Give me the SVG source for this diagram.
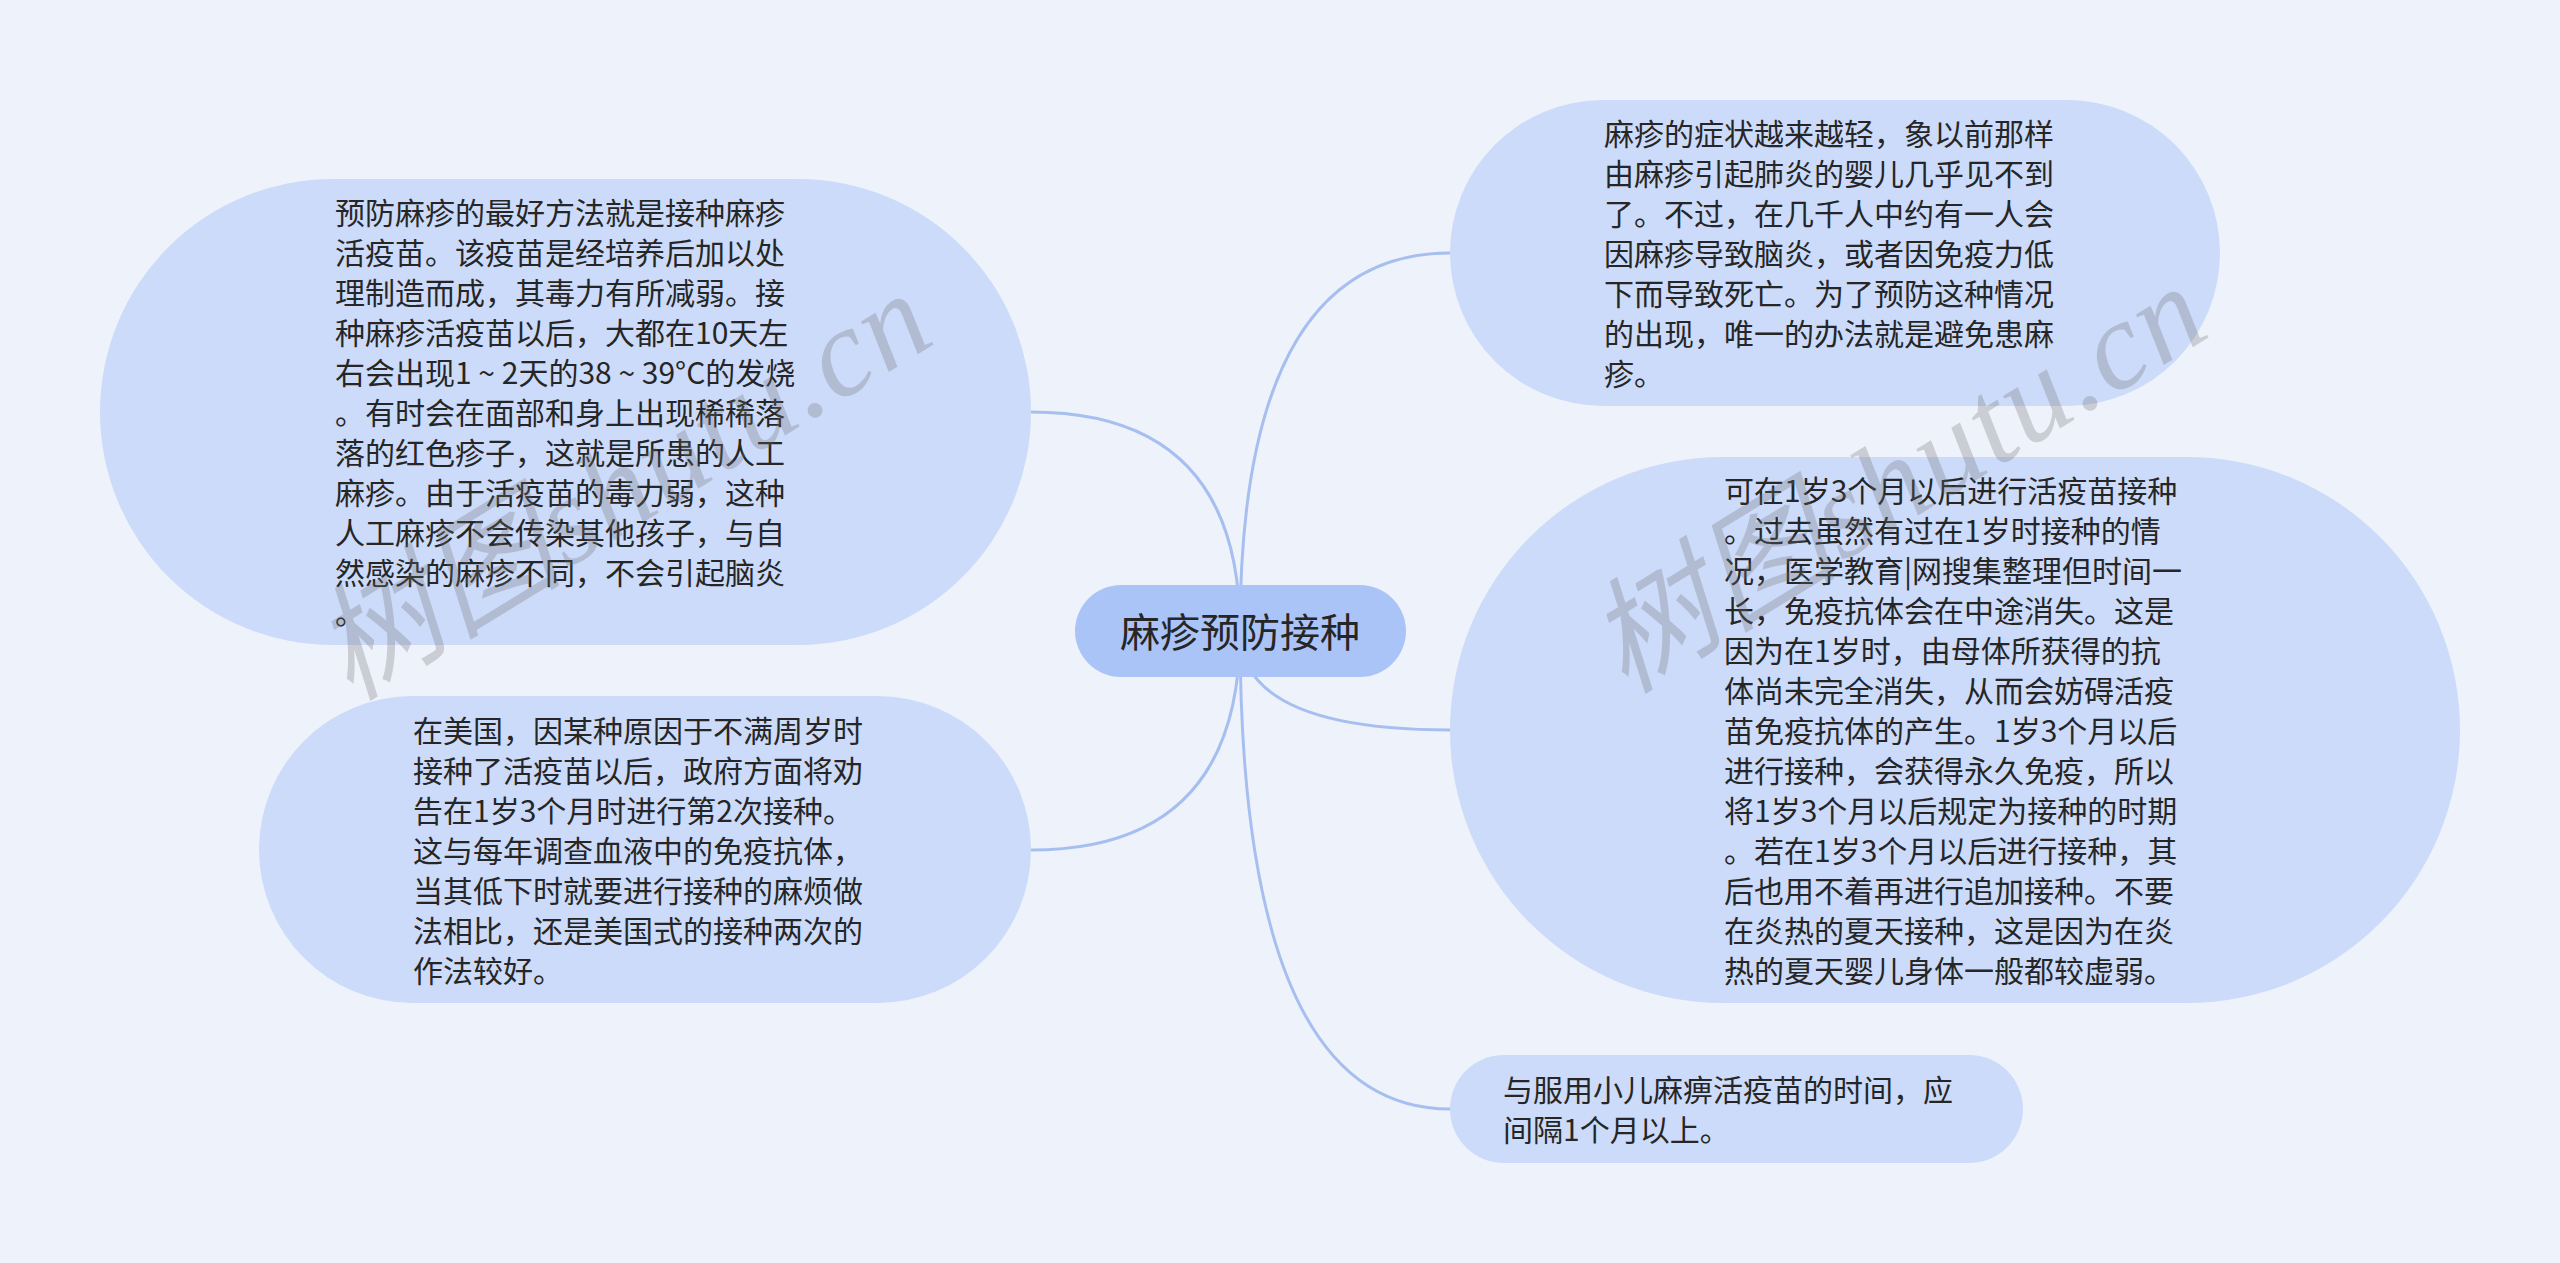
<svg xmlns="http://www.w3.org/2000/svg" width="2560" height="1263" viewBox="0 0 2560 1263">
<style>
.bg{fill:#eef3fb}
.node{fill:#ccdbfa}
.root{fill:#abc4f8}
.link{fill:none;stroke:#a7bff0;stroke-width:3}
.t{font-family:"Noto Sans CJK SC","Noto Sans",sans-serif;font-size:30px;fill:#262626}
.rt{font-family:"Noto Sans CJK SC","Noto Sans",sans-serif;font-size:40px;fill:#262626}
.wm{font-family:"Liberation Serif","Noto Sans CJK SC",serif;font-style:italic;font-size:125px;fill:#6f6f6f;opacity:0.28}
</style>
<rect class="bg" x="0" y="0" width="2560" height="1263"/>
<g id="connectors">
<path class="link" d="M1240 631 Q1240 412 1031 412"/>
<path class="link" d="M1240 631 Q1240 253 1450 253"/>
<path class="link" d="M1240 631 Q1240 850 1031 850"/>
<path class="link" d="M1240 631 Q1240 730 1450 730"/>
<path class="link" d="M1240 631 Q1240 1109 1450 1109"/>
</g>
<g id="root">
<rect class="root" x="1075" y="585" width="331" height="92" rx="46"/>
<text class="rt" x="1240" y="647" text-anchor="middle">麻疹预防接种</text>
</g>
<g id="node-left-1">
<rect class="node" x="100" y="179" width="931" height="466" rx="233"/>
<text class="t" x="335" y="224"><tspan x="335">预防麻疹的最好方法就是接种麻疹</tspan><tspan x="335" dy="40">活疫苗。该疫苗是经培养后加以处</tspan><tspan x="335" dy="40">理制造而成，其毒力有所减弱。接</tspan><tspan x="335" dy="40">种麻疹活疫苗以后，大都在10天左</tspan><tspan x="335" dy="40">右会出现1 ~ 2天的38 ~ 39°C的发烧</tspan><tspan x="335" dy="40">。有时会在面部和身上出现稀稀落</tspan><tspan x="335" dy="40">落的红色疹子，这就是所患的人工</tspan><tspan x="335" dy="40">麻疹。由于活疫苗的毒力弱，这种</tspan><tspan x="335" dy="40">人工麻疹不会传染其他孩子，与自</tspan><tspan x="335" dy="40">然感染的麻疹不同，不会引起脑炎</tspan><tspan x="335" dy="40">。</tspan></text>
</g>
<g id="node-left-2">
<rect class="node" x="259" y="696" width="772" height="307" rx="153.5"/>
<text class="t" x="413" y="742"><tspan x="413">在美国，因某种原因于不满周岁时</tspan><tspan x="413" dy="40">接种了活疫苗以后，政府方面将劝</tspan><tspan x="413" dy="40">告在1岁3个月时进行第2次接种。</tspan><tspan x="413" dy="40">这与每年调查血液中的免疫抗体，</tspan><tspan x="413" dy="40">当其低下时就要进行接种的麻烦做</tspan><tspan x="413" dy="40">法相比，还是美国式的接种两次的</tspan><tspan x="413" dy="40">作法较好。</tspan></text>
</g>
<g id="node-right-1">
<rect class="node" x="1450" y="100" width="770" height="306" rx="153"/>
<text class="t" x="1604" y="145"><tspan x="1604">麻疹的症状越来越轻，象以前那样</tspan><tspan x="1604" dy="40">由麻疹引起肺炎的婴儿几乎见不到</tspan><tspan x="1604" dy="40">了。不过，在几千人中约有一人会</tspan><tspan x="1604" dy="40">因麻疹导致脑炎，或者因免疫力低</tspan><tspan x="1604" dy="40">下而导致死亡。为了预防这种情况</tspan><tspan x="1604" dy="40">的出现，唯一的办法就是避免患麻</tspan><tspan x="1604" dy="40">疹。</tspan></text>
</g>
<g id="node-right-2">
<rect class="node" x="1450" y="457" width="1010" height="546" rx="273"/>
<text class="t" x="1724" y="502"><tspan x="1724">可在1岁3个月以后进行活疫苗接种</tspan><tspan x="1724" dy="40">。过去虽然有过在1岁时接种的情</tspan><tspan x="1724" dy="40">况，医学教育|网搜集整理但时间一</tspan><tspan x="1724" dy="40">长，免疫抗体会在中途消失。这是</tspan><tspan x="1724" dy="40">因为在1岁时，由母体所获得的抗</tspan><tspan x="1724" dy="40">体尚未完全消失，从而会妨碍活疫</tspan><tspan x="1724" dy="40">苗免疫抗体的产生。1岁3个月以后</tspan><tspan x="1724" dy="40">进行接种，会获得永久免疫，所以</tspan><tspan x="1724" dy="40">将1岁3个月以后规定为接种的时期</tspan><tspan x="1724" dy="40">。若在1岁3个月以后进行接种，其</tspan><tspan x="1724" dy="40">后也用不着再进行追加接种。不要</tspan><tspan x="1724" dy="40">在炎热的夏天接种，这是因为在炎</tspan><tspan x="1724" dy="40">热的夏天婴儿身体一般都较虚弱。</tspan></text>
</g>
<g id="node-right-3">
<rect class="node" x="1450" y="1055" width="573" height="108" rx="54"/>
<text class="t" x="1503" y="1101"><tspan x="1503">与服用小儿麻痹活疫苗的时间，应</tspan><tspan x="1503" dy="40">间隔1个月以上。</tspan></text>
</g>
<g id="watermarks">
<text class="wm" transform="translate(350 702) rotate(-31.5)" textLength="690" lengthAdjust="spacing">树图shutu.cn</text>
<text class="wm" transform="translate(1625 695) rotate(-31.5)" textLength="690" lengthAdjust="spacing">树图shutu.cn</text>
</g>
</svg>
